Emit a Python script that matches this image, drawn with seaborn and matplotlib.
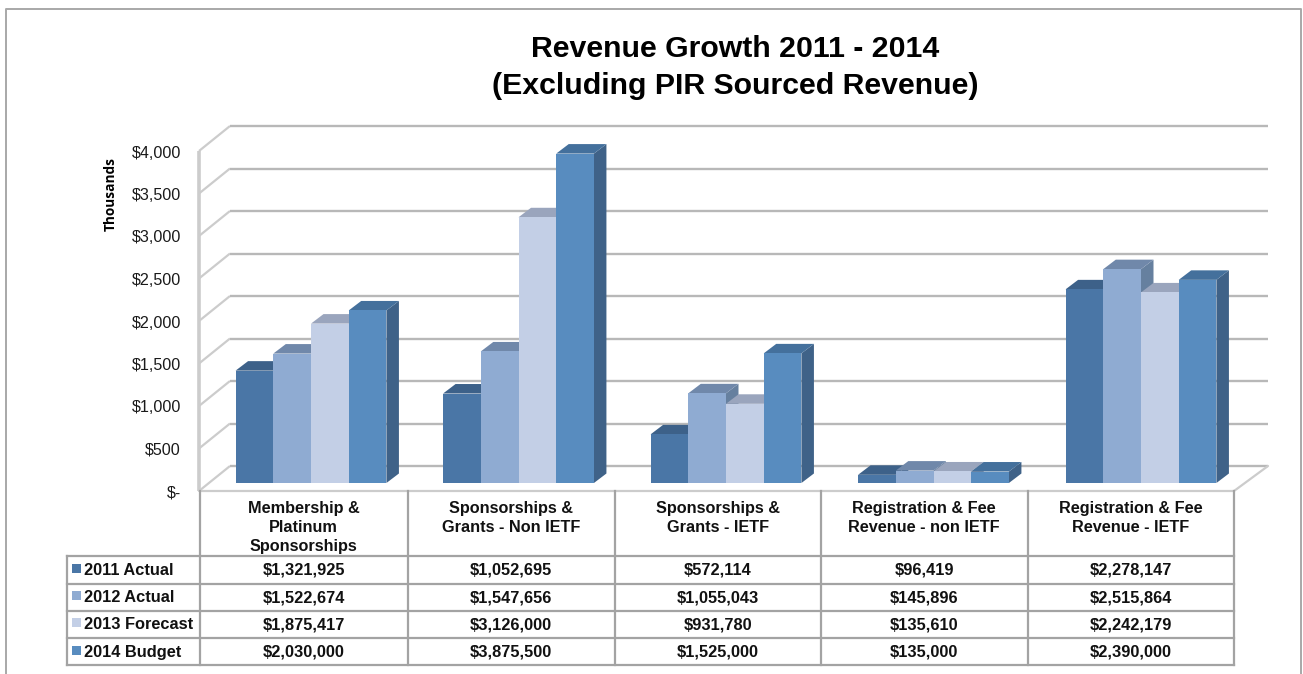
import matplotlib
matplotlib.use("Agg")
import matplotlib.pyplot as plt
import pandas as pd
import seaborn as sns
from matplotlib.patches import Polygon, Rectangle
from matplotlib.transforms import IdentityTransform

categories = ["Membership &\nPlatinum\nSponsorships", "Sponsorships &\nGrants - Non IETF",
              "Sponsorships &\nGrants - IETF", "Registration & Fee\nRevenue - non IETF",
              "Registration & Fee\nRevenue - IETF"]
series_names = ["2011 Actual", "2012 Actual", "2013 Forecast", "2014 Budget"]
actual_2011 = [1321925, 1052695, 572114, 96419, 2278147]
actual_2012 = [1522674, 1547656, 1055043, 145896, 2515864]
forecast_2013 = [1875417, 3126000, 931780, 135610, 2242179]
budget_2014 = [2030000, 3875500, 1525000, 135000, 2390000]
y_ticks = [0, 500, 1000, 1500, 2000, 2500, 3000, 3500, 4000]
y_labels = ["$-", "$500", "$1,000", "$1,500", "$2,000", "$2,500", "$3,000", "$3,500", "$4,000"]

front_colors = ["#4A76A6", "#8FABD2", "#C3CFE6", "#588CBF"]
top_colors = ["#3D6189", "#7088AA", "#9AA5BD", "#44709C"]
side_colors = ["#3B5E86", "#66809F", "#8C98AE", "#3F6288"]
grid_color = "#b8b8b8"
wall_color = "#cccccc"
table_color = "#a3a3a3"

W, H = 1303, 674
sns.set_theme(style="white")
plt.rcParams["font.family"] = ["Liberation Sans", "DejaVu Sans"]

rows = []
for name, vals in zip(series_names, [actual_2011, actual_2012, forecast_2013, budget_2014]):
    for cat, v in zip(categories, vals):
        rows.append({"category": cat, "series": name, "value": v / 1000})
df = pd.DataFrame(rows)

fig = plt.figure(figsize=(W / 100, H / 100), dpi=100, facecolor="white")

# background layer in image pixels, y going down
bg = fig.add_axes([0, 0, 1, 1], zorder=0)
bg.set_xlim(0, W)
bg.set_ylim(H, 0)
bg.axis("off")

# main axes, bar front plane: $0 at y=483, $4000 at y=143
ax = fig.add_axes([207.25 / W, (H - 483) / H, (1244.75 - 207.25) / W, 340 / H], zorder=1)
ax.patch.set_alpha(0)
sns.barplot(data=df, x="category", y="value", hue="series", palette=front_colors, saturation=1,
            width=0.727, gap=0, legend=False, ax=ax, linewidth=0, errorbar=None)
ax.set_xlim(-0.5, 4.5)
ax.set_ylim(0, 4000)
ax.axis("off")


def y_px(v):
    return H - ax.transData.transform((0, v))[1]


# walls and gridlines
for tick, label in zip(y_ticks, y_labels):
    y = y_px(tick)
    bg.plot([199, 230], [y + 8, y - 17], color=wall_color, lw=1.6, solid_capstyle="butt")
    bg.plot([230, 1268], [y - 17, y - 17], color=grid_color, lw=1.7, solid_capstyle="butt")
    bg.text(181, y + 10, label, ha="right", va="center", fontsize=11.6, color="#1a1a1a")
bg.plot([199, 199], [y_px(4000) + 8, y_px(0) + 8], color=wall_color, lw=2.6, solid_capstyle="butt")
bg.plot([199, 1234, 1268], [y_px(0) + 8, y_px(0) + 8, y_px(0) - 17], color=wall_color, lw=1.6)

# 3d faces for every bar, taken from the seaborn bars
bars = sorted(ax.patches, key=lambda b: b.get_x())
dx, dy = 12.5, 9.5
for i, bar in enumerate(bars):
    k = i % 4
    (x0, y0), (x1, y1) = ax.transData.transform(
        [(bar.get_x(), 0), (bar.get_x() + bar.get_width(), bar.get_height())])
    z = 3 + i * 0.1
    side = Polygon([(x1, y0), (x1 + dx, y0 + dy), (x1 + dx, y1 + dy), (x1, y1)], closed=True,
                   facecolor=side_colors[k], edgecolor="none", transform=IdentityTransform(),
                   clip_on=False, zorder=z)
    top = Polygon([(x0, y1), (x1, y1), (x1 + dx, y1 + dy), (x0 + dx, y1 + dy)], closed=True,
                  facecolor=top_colors[k], edgecolor="none", transform=IdentityTransform(),
                  clip_on=False, zorder=z)
    ax.add_patch(side)
    ax.add_patch(top)
    bar.set_zorder(z + 0.01)
    bar.set_clip_on(False)

# outer frame, runs off the bottom of the picture
bg.plot([5.5, 5.5, 1301, 1301], [H, 8.5, 8.5, H], color="#a8a8a8", lw=1.4)

bg.text(735, 67.5, "Revenue Growth 2011 - 2014\n(Excluding PIR Sourced Revenue)", ha="center",
        va="center", fontsize=21.8, fontweight="bold", color="black", linespacing=1.42)
bg.text(110.5, 194, "Thousands", rotation=90, ha="center", va="center", fontsize=9.8,
        fontweight="bold", family=["Open Sans", "DejaVu Sans"], color="black")

# data table
col_x = [200, 407.5, 614.5, 821, 1027.5, 1233.5]
row_y = [491, 555.7, 583.7, 610.5, 638, 665]
for x in col_x:
    bg.plot([x, x], [row_y[0], row_y[-1]], color=table_color, lw=1.6, solid_capstyle="projecting")
for y in row_y[1:]:
    bg.plot([67, col_x[-1]], [y, y], color=table_color, lw=1.6, solid_capstyle="projecting")
bg.plot([67, 67], [row_y[1], row_y[-1]], color=table_color, lw=1.6, solid_capstyle="projecting")

for j, cat in enumerate(categories):
    cx = (col_x[j] + col_x[j + 1]) / 2
    bg.text(cx, 501, cat, ha="center", va="top", fontsize=11.7, fontweight="bold",
            color="#111111", linespacing=1.35)
for r, (name, vals) in enumerate(zip(series_names, [actual_2011, actual_2012, forecast_2013, budget_2014])):
    cy = (row_y[r + 1] + row_y[r + 2]) / 2
    bg.add_patch(Rectangle((72, cy - 6), 9, 9, facecolor=front_colors[r], edgecolor="none"))
    bg.text(84, cy + 0.5, name, ha="left", va="center", fontsize=11.8, fontweight="bold", color="#111111")
    for j, v in enumerate(vals):
        cx = (col_x[j] + col_x[j + 1]) / 2
        bg.text(cx, cy + 0.5, f"${v:,}", ha="center", va="center", fontsize=11.8,
                fontweight="bold", color="#111111")

fig.savefig("out.png", dpi=100)
